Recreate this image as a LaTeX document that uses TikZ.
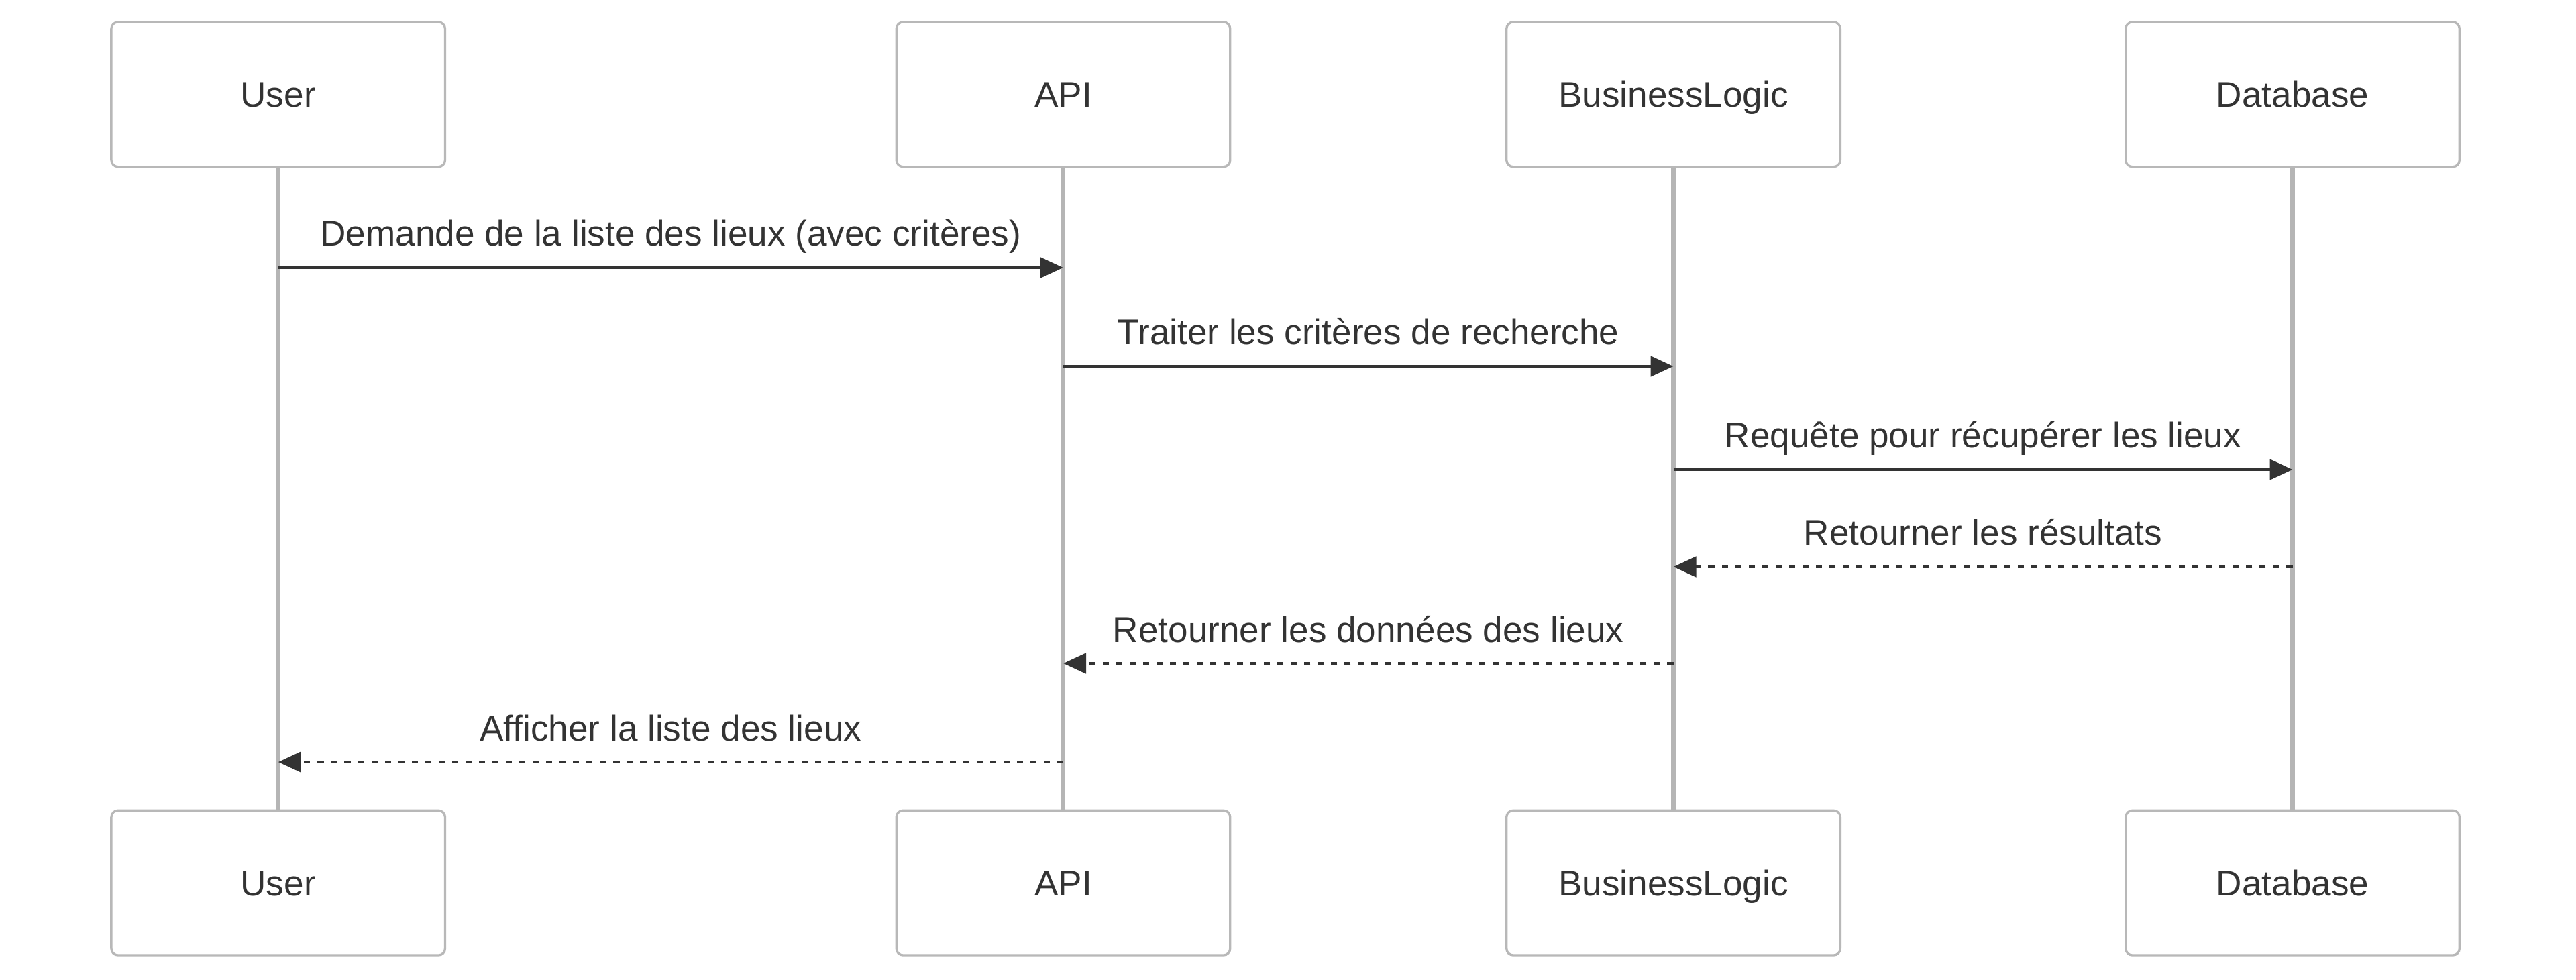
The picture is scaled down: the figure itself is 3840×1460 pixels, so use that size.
\documentclass[tikz,border=0pt]{standalone}
\usepackage{fontspec}
\setmainfont{Liberation Sans}
\usetikzlibrary{positioning,arrows.meta}
\definecolor{boxline}{HTML}{B8B8B8}
\definecolor{lineclr}{HTML}{B5B5B5}
\definecolor{ink}{HTML}{333333}
\tikzset{
actor/.style={
  draw=boxline,
  line width=0.95pt,
  rounded corners=0.1cm,
  fill=white,
  minimum width=4.973cm,
  minimum height=2.157cm,
  text=ink,
  text height=0.38cm,
  text depth=0pt,
  inner sep=0pt
},
lifeline/.style={draw=lineclr, line width=1.8pt},
msg/.style={draw=ink, line width=1.4pt, -{Triangle[length=3.4mm,width=3mm]}},
reply/.style={msg, dash pattern=on 2.6pt off 3.1pt},
msglabel/.style={text=ink, anchor=base, yshift=0.32cm}
}

\begin{document}
\begin{tikzpicture}[x=0.01cm, y=-0.01cm, every node/.style={font=\fontsize{15.1}{18}\selectfont}]
  \useasboundingbox (0,0) rectangle (3840,1460);

  \node[actor] (userT) at (414.7,140.8) {User};
  \node[actor] (apiT) at (1585,140.8) {API};
  \node[actor] (blT) at (2494.5,140.8) {BusinessLogic};
  \node[actor] (dbT) at (3417.5,140.8) {Database};

  \node[actor, below=9.556cm of userT] (userB) {User};
  \node[actor, below=9.556cm of apiT] (apiB) {API};
  \node[actor, below=9.556cm of blT] (blB) {BusinessLogic};
  \node[actor, below=9.556cm of dbT] (dbB) {Database};

  \draw[lifeline] (userT) -- (userB);
  \draw[lifeline] (apiT) -- (apiB);
  \draw[lifeline] (blT) -- (blB);
  \draw[lifeline] (dbT) -- (dbB);

  \coordinate (r1) at (0,399);
  \coordinate (r2) at (0,546);
  \coordinate (r3) at (0,700);
  \coordinate (r4) at (0,845);
  \coordinate (r5) at (0,989);
  \coordinate (r6) at (0,1136);

  \draw[msg] (userT |- r1) -- node[msglabel] (l1) {Demande de la liste des lieux (avec critères)} (apiT |- r1);
  \draw[msg] (apiT |- r2) -- node[msglabel] (l2) {Traiter les critères de recherche} (blT |- r2);
  \draw[msg] (blT |- r3) -- node[msglabel] (l3) {Requête pour récupérer les lieux} (dbT |- r3);
  \draw[reply] (dbT |- r4) -- node[msglabel] (l4) {Retourner les résultats} (blT |- r4);
  \draw[reply] (blT |- r5) -- node[msglabel] (l5) {Retourner les données des lieux} (apiT |- r5);
  \draw[reply] (apiT |- r6) -- node[msglabel] (l6) {Afficher la liste des lieux} (userT |- r6);
\end{tikzpicture}
\end{document}
